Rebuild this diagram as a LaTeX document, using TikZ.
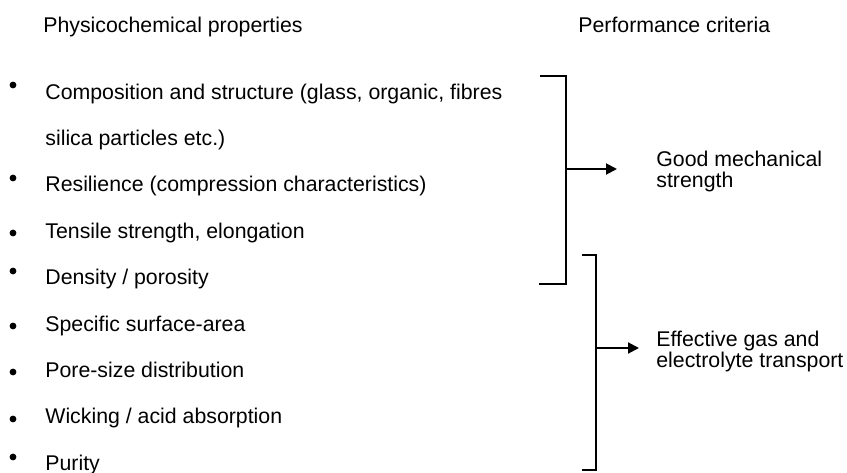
\documentclass[tikz,border=0pt]{standalone}
\usepackage{fontspec}
\setmainfont{Liberation Sans}
\usetikzlibrary{arrows.meta}

\begin{document}
\begin{tikzpicture}[
    x=0.5pt, y=-0.5pt,
    every node/.style={font=\fontsize{10.65}{10.3}\selectfont, inner sep=0pt},
    heading/.style={anchor=base west},
    item/.style={anchor=base west},
    result/.style={anchor=base west, align=left},
    dot/.style={circle, fill=black, minimum size=3.4pt, inner sep=0pt},
    bracket/.style={line width=1pt},
    arrow/.style={-{Triangle[length=5.5pt,width=5.5pt]}, line width=1pt},
]
\useasboundingbox (0,0) rectangle (847,472);

% ── Headings ──
\node[heading] (props) at (43,32) {Physicochemical properties};
\node[heading] (perf) at (578,32) {Performance criteria};

% ── Property list ──
\node[item] (comp)    at (45,99)    {Composition and structure (glass, organic, fibres};
\node[item] (silica)  at (45,145.4) {silica particles etc.)};
\node[item] (resil)   at (45,191.8) {Resilience (compression characteristics)};
\node[item] (tensile) at (45,238.2) {Tensile strength, elongation};
\node[item] (dens)    at (45,284.6) {Density / porosity};
\node[item] (surf)    at (45,331)   {Specific surface-area};
\node[item] (pore)    at (45,377.4) {Pore-size distribution};
\node[item] (wick)    at (45,423.8) {Wicking / acid absorption};
\node[item] (purity)  at (45,470)   {Purity};

% ── Bullets ──
\node[dot] (bcomp)    at (13,85)  {};
\node[dot] (bresil)   at (13,178) {};
\node[dot] (btensile) at (13,233) {};
\node[dot] (bdens)    at (13,271) {};
\node[dot] (bsurf)    at (13,326) {};
\node[dot] (bpore)    at (13,372) {};
\node[dot] (bwick)    at (13,419) {};
\node[dot] (bpurity)  at (13,457) {};

% ── Criteria ──
\node[result] (mech) at (656,187.5) {Good mechanical\\strength};
\node[result] (trans) at (656,367.5) {Effective gas and\\electrolyte transport};

% ── Brackets ──
\coordinate (b1top) at (540,76);
\coordinate (b1bot) at (539,284);
\coordinate (b1mid) at (566,169);
\coordinate (b1tip) at (617,169);
\draw[bracket] (b1top) -| (b1mid) |- (b1bot);

\coordinate (b2top) at (582,255);
\coordinate (b2bot) at (582,470);
\coordinate (b2mid) at (596,348);
\coordinate (b2tip) at (639,348);
\draw[bracket] (b2top) -| (b2mid) |- (b2bot);

% ── Arrows ──
\draw[arrow] (b1mid) -- (b1tip);
\draw[arrow] (b2mid) -- (b2tip);

\end{tikzpicture}
\end{document}
